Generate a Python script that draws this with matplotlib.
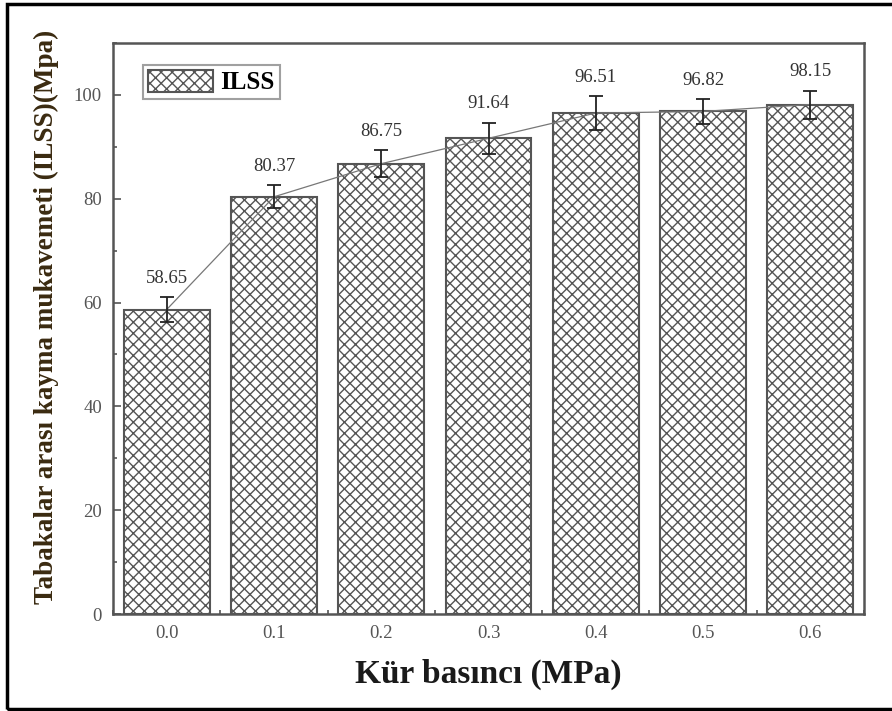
import numpy as np
import matplotlib.pyplot as plt
from matplotlib.patches import Rectangle
from matplotlib.ticker import MultipleLocator

plt.rcParams['font.family'] = ['Liberation Serif', 'DejaVu Serif']
plt.rcParams['hatch.color'] = '#9c9c9c'
plt.rcParams['hatch.linewidth'] = 1.0

# data
pressure = [0.0, 0.1, 0.2, 0.3, 0.4, 0.5, 0.6]
ilss = [58.65, 80.37, 86.75, 91.64, 96.51, 96.82, 98.15]
ilss_err = [2.4, 2.2, 2.6, 3.0, 3.3, 2.4, 2.7]
tick_labels = ['0.0', '0.1', '0.2', '0.3', '0.4', '0.5', '0.6']

fig = plt.figure(figsize=(8.92, 7.11), dpi=100)
ax = fig.add_axes([0.1267, 0.1364, 0.8419, 0.8031])

ax.bar(pressure, ilss, width=0.08, color='white', edgecolor='#555555',
       linewidth=1.5, hatch='xxx', label='ILSS', zorder=2)
ax.plot(pressure, ilss, color='#777777', linewidth=0.9, zorder=3)
ax.errorbar(pressure, ilss, yerr=ilss_err, fmt='none', ecolor='#222222',
            elinewidth=1.3, capsize=5, capthick=1.3, zorder=4)

for x, y, e in zip(pressure, ilss, ilss_err):
    ax.text(x, y + e + 2.0, f'{y:.2f}', ha='center', va='bottom',
            fontsize=13.5, color='#333333')

ax.set_xlim(-0.05, 0.65)
ax.set_ylim(0, 110)
ax.set_xticks(pressure)
ax.set_xticklabels(tick_labels)
ax.xaxis.set_minor_locator(MultipleLocator(0.05))
ax.yaxis.set_major_locator(MultipleLocator(20))
ax.yaxis.set_minor_locator(MultipleLocator(10))
ax.tick_params(which='both', direction='in', colors='#555555', labelcolor='#555555',
               labelsize=13.5, width=1.2)
ax.tick_params(which='major', length=6, pad=8)
ax.tick_params(which='minor', length=3)
for s in ax.spines.values():
    s.set_color('#555555')
    s.set_linewidth(1.8)

ax.set_xlabel('Kür basıncı (MPa)', fontsize=24, fontweight='bold', color='#1a1a1a', labelpad=12)
ax.set_ylabel('Tabakalar arası kayma mukavemeti (ILSS)(Mpa)', fontsize=19.5,
              fontweight='bold', color='#3a2a10')
ax.yaxis.set_label_coords(-0.072, 0.52)

leg = ax.legend(loc='upper left', bbox_to_anchor=(0.04, 0.962), prop={'weight': 'bold', 'size': 18},
                fancybox=False, handlelength=2.6, handleheight=1.0, borderpad=0.2,
                handletextpad=0.3, borderaxespad=0)
leg.get_frame().set_edgecolor('#888888')
leg.get_frame().set_linewidth(1.5)

# outer frame around the figure
fig.patches.append(Rectangle((7 / 892, 2 / 711), 1.0, 1 - 6 / 711, transform=fig.transFigure,
                             fill=False, edgecolor='black', linewidth=2.5))

fig.savefig('out.png', dpi=100)
